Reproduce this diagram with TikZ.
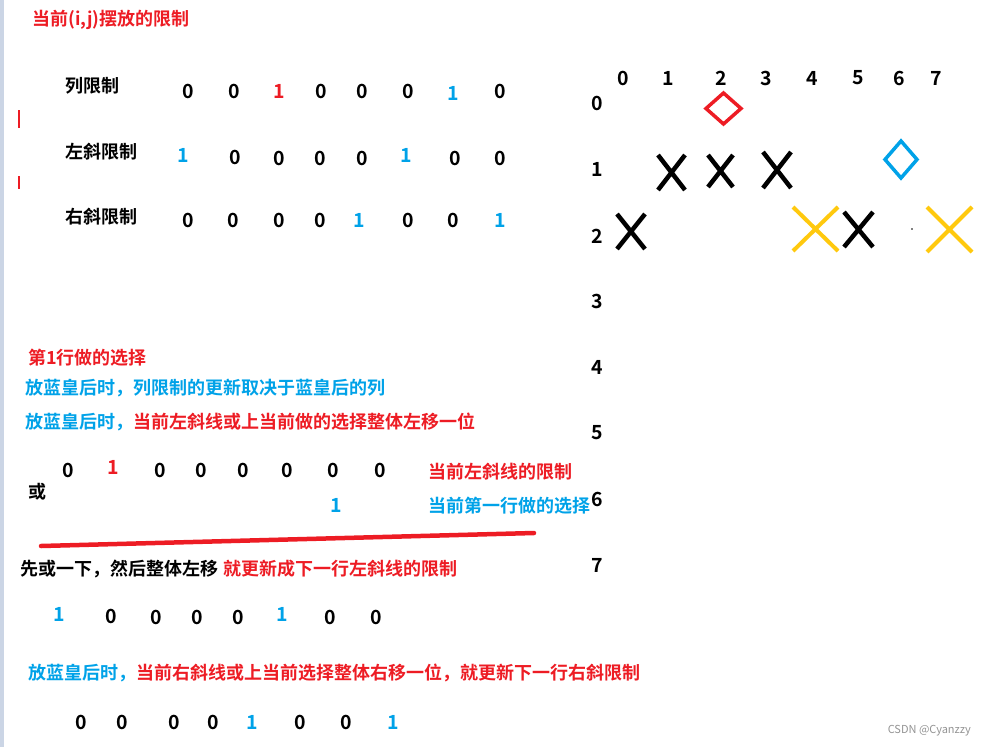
\documentclass[tikz,border=0pt]{standalone}
\usepackage{fontspec}
\setmainfont{Noto Sans CJK SC}[BoldFont={Noto Sans CJK SC Bold}]
\usetikzlibrary{positioning}
\definecolor{rot}{RGB}{237,28,36}
\definecolor{blau}{RGB}{0,162,232}
\definecolor{gelb}{RGB}{255,201,14}
\definecolor{rand}{RGB}{203,213,229}

\begin{document}
\begin{tikzpicture}
[x=1pt, y=-1pt,
beschriftung/.style ={font=\fontsize{18}{20}\selectfont\bfseries, inner sep=0pt, anchor=west},
ziffer/.style ={font=\fontsize{19.5}{20}\selectfont\bfseries, inner sep=0pt},
kreuz/.style ={draw, line width=4.5pt},
kreuz_gelb/.style ={draw=gelb, line width=4pt},
raute/.style ={draw, line width=3.5pt, line join=miter},
strich/.style ={draw=rot, line width=2pt}]

\useasboundingbox (0,0) rectangle (987,747);
\fill[rand] (0,0) rectangle (3.5,747);

%%%%%TITEL%%%%%
\node [beschriftung, text=rot] (titel) at (32,20) {当前(i,j)摆放的限制};
\draw [strich] (19,110) -- (19,128);
\draw [strich] (19,176) -- (19,189);

%%%%%ZEILEN OBEN%%%%%
\node [beschriftung] (lbl1) at (65,86) {列限制};
\node [beschriftung] (lbl2) at (65,152) {左斜限制};
\node [beschriftung] (lbl3) at (65,217) {右斜限制};

% Spalten
\node [ziffer] (11) at (188,91) {0}; \node [ziffer] (12) at (234,91) {0};
\node [ziffer, text=rot] (13) at (279,91) {1}; \node [ziffer] (14) at (321,91) {0};
\node [ziffer] (15) at (362,91) {0}; \node [ziffer] (16) at (408,91) {0};
\node [ziffer, text=blau] (17) at (453,93) {1}; \node [ziffer] (18) at (500,91) {0};
% links
\node [ziffer, text=blau] (21) at (183,155) {1}; \node [ziffer] (22) at (235,157) {0};
\node [ziffer] (23) at (279,158) {0}; \node [ziffer] (24) at (320,158) {0};
\node [ziffer] (25) at (362,158) {0}; \node [ziffer, text=blau] (26) at (406,155) {1};
\node [ziffer] (27) at (455,158) {0}; \node [ziffer] (28) at (500,158) {0};
% rechts
\node [ziffer] (31) at (188,220) {0}; \node [ziffer] (32) at (233,220) {0};
\node [ziffer] (33) at (279,220) {0}; \node [ziffer] (34) at (320,220) {0};
\node [ziffer, text=blau] (35) at (359,220) {1}; \node [ziffer] (36) at (408,220) {0};
\node [ziffer] (37) at (453,220) {0}; \node [ziffer, text=blau] (38) at (500,220) {1};

%%%%%BRETT%%%%%
\node [ziffer] (s0) at (623,78) {0}; \node [ziffer] (s1) at (668,78) {1};
\node [ziffer] (s2) at (721,78) {2}; \node [ziffer] (s3) at (766,78) {3};
\node [ziffer] (s4) at (812,78) {4}; \node [ziffer] (s5) at (858,78) {5};
\node [ziffer] (s6) at (899,78) {6}; \node [ziffer] (s7) at (936,78) {7};

\node [ziffer] (k0) at (597,103) {0}; \node [ziffer] (k1) at (597,169) {1};
\node [ziffer] (k2) at (597,236) {2}; \node [ziffer] (k3) at (597,301) {3};
\node [ziffer] (k4) at (597,367) {4}; \node [ziffer] (k5) at (597,433) {5};
\node [ziffer] (k6) at (597,499) {6}; \node [ziffer] (k7) at (597,565) {7};

% Damen
\draw [raute, rot] (706,108.5) -- (723.5,93) -- (741,108.5) -- (723.5,124) -- cycle;
\draw [raute, blau] (885,159.5) -- (901,141) -- (917,159.5) -- (901,178) -- cycle;

% Kreuze
\draw [kreuz] (658,155) -- (685,190) (658,190) -- (685,155);
\draw [kreuz] (708,155) -- (733,187) (708,187) -- (733,155);
\draw [kreuz] (763,152) -- (791,188) (763,188) -- (791,152);
\draw [kreuz] (617,214) -- (645,249) (617,249) -- (645,214);
\draw [kreuz] (844,212) -- (873,247) (844,247) -- (873,212);
\draw [kreuz_gelb] (793,207) -- (838,251) (793,251) -- (838,207);
\draw [kreuz_gelb] (927,207) -- (972,252) (927,252) -- (972,207);
\fill (912,229) circle (0.8);

%%%%%ERKLAERUNG%%%%%
\node [beschriftung, text=rot] (wahl) at (28,358) {第1行做的选择};
\node [beschriftung, text=blau] (spalte) at (25,388) {放蓝皇后时，列限制的更新取决于蓝皇后的列};
\node [beschriftung, text=blau] (links_a) at (25,422) {放蓝皇后时，};
\node [beschriftung, text=rot, right=0pt of links_a] (links_b) {当前左斜线或上当前做的选择整体左移一位};

\node [ziffer] (41) at (68,470) {0}; \node [ziffer, text=rot] (42) at (113,467) {1};
\node [ziffer] (43) at (160,470) {0}; \node [ziffer] (44) at (201,470) {0};
\node [ziffer] (45) at (243,470) {0}; \node [ziffer] (46) at (287,470) {0};
\node [ziffer] (47) at (333,470) {0}; \node [ziffer] (48) at (380,470) {0};
\node [ziffer, text=blau] (57) at (336,505) {1};
\node [beschriftung] (oder) at (28,492) {或};
\node [beschriftung, text=rot] (grenze) at (428,472) {当前左斜线的限制};
\node [beschriftung, text=blau] (auswahl) at (428,506) {当前第一行做的选择};

\draw [rot, line width=4.5pt, line cap=round] (41,546) -- (534,533);

\node [beschriftung] (schritt_a) at (20,569) {先或一下，然后整体左移};
\node [beschriftung, text=rot, right=5pt of schritt_a] (schritt_b) {就更新成下一行左斜线的限制};

\node [ziffer, text=blau] (61) at (59,614) {1}; \node [ziffer] (62) at (111,616) {0};
\node [ziffer] (63) at (156,617) {0}; \node [ziffer] (64) at (197,617) {0};
\node [ziffer] (65) at (238,617) {0}; \node [ziffer, text=blau] (66) at (282,614) {1};
\node [ziffer] (67) at (330,617) {0}; \node [ziffer] (68) at (376,617) {0};

\node [beschriftung, text=blau] (rechts_a) at (28,673) {放蓝皇后时，};
\node [beschriftung, text=rot, right=0pt of rechts_a] (rechts_b) {当前右斜线或上当前选择整体右移一位，就更新下一行右斜限制};

\node [ziffer] (71) at (81,722) {0}; \node [ziffer] (72) at (122,722) {0};
\node [ziffer] (73) at (174,722) {0}; \node [ziffer] (74) at (213,722) {0};
\node [ziffer, text=blau] (75) at (252,722) {1}; \node [ziffer] (76) at (300,722) {0};
\node [ziffer] (77) at (346,722) {0}; \node [ziffer, text=blau] (78) at (393,722) {1};

\node [inner sep=0pt, anchor=east, text=gray!85, font=\fontsize{11}{12}\selectfont] (marke) at (971,731) {CSDN @Cyanzzy};

\end{tikzpicture}
\end{document}
